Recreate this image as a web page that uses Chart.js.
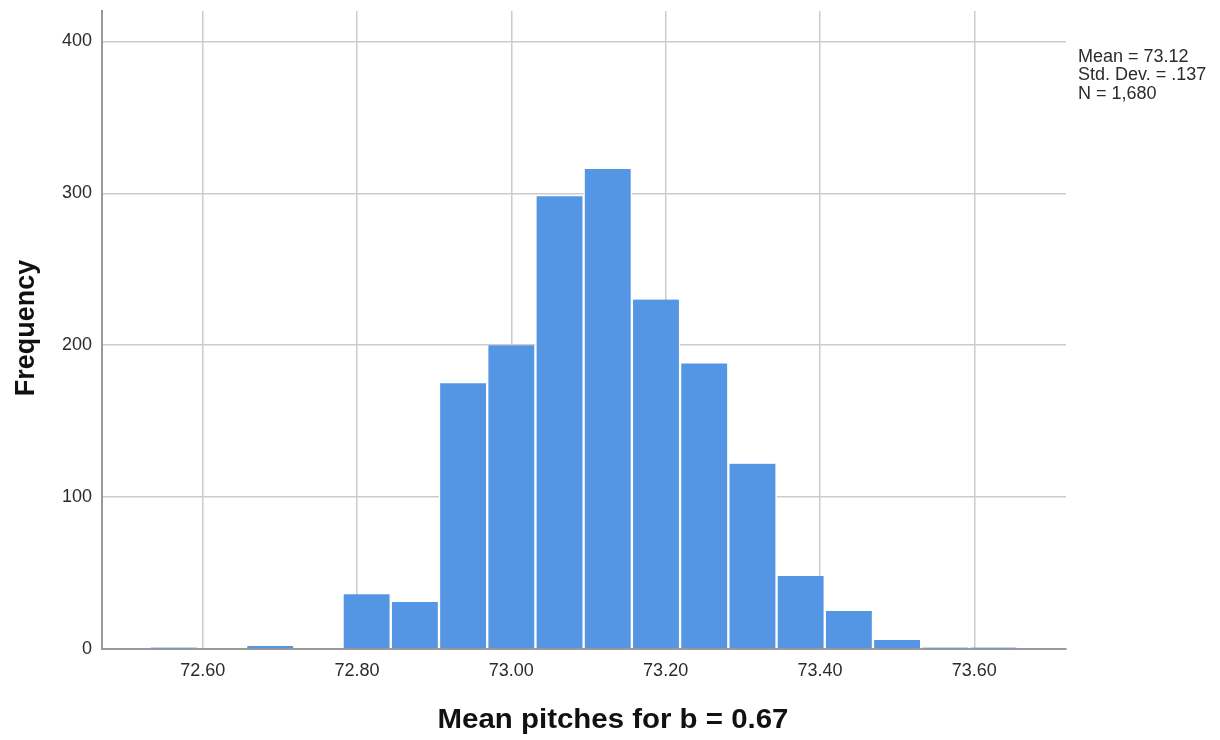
<!DOCTYPE html>
<html>
<head>
<meta charset="utf-8">
<script src="https://cdn.jsdelivr.net/npm/chart.js@4"></script>
<style>
  html, body { margin: 0; padding: 0; background: #fff; }
  #wrap { width: 1220px; height: 740px; position: relative; }
</style>
</head>
<body>
<div id="wrap"><canvas id="histChart" width="1220" height="740"></canvas></div>
<script>
// histogram bins (centres) and counts
const binCenters = [72.5625, 72.625, 72.6875, 72.75, 72.8125, 72.875, 72.9375, 73.0, 73.0625,
    73.125, 73.1875, 73.25, 73.3125, 73.375, 73.4375, 73.5, 73.5625, 73.625];
const counts = [1, 0, 2, 0, 36, 31, 175, 200, 298, 316, 230, 188, 122, 48, 25, 6, 1, 1];

const xTicks = [72.6, 72.8, 73.0, 73.2, 73.4, 73.6];
const yTicks = [0, 100, 200, 300, 400];
const statsLines = ['Mean = 73.12', 'Std. Dev. = .137', 'N = 1,680'];
const xTitle = 'Mean pitches for b = 0.67';
const yTitle = 'Frequency';

const BAR_COLOR = '#5596e4';
const GRID_COLOR = '#cccccc';
const AXIS_COLOR = '#999999';
const TEXT_COLOR = '#2b2b2b';

// titles + stats box drawn on the canvas
const textPlugin = {
    id: 'histText',
    afterDraw(chart) {
        const ctx = chart.ctx;
        ctx.save();
        ctx.fillStyle = TEXT_COLOR;
        ctx.font = '18px "Liberation Sans", Arial, sans-serif';
        ctx.textAlign = 'left';
        ctx.textBaseline = 'alphabetic';
        statsLines.forEach((line, i) => ctx.fillText(line, 1078, 61.5 + i * 18.5));

        ctx.fillStyle = '#111';
        ctx.font = 'bold 27px "Liberation Sans", Arial, sans-serif';
        ctx.textAlign = 'center';
        ctx.save();
        ctx.translate(613, 728);
        ctx.scale(1.09, 1);   // reference title is a bit wider
        ctx.fillText(xTitle, 0, 0);
        ctx.restore();

        ctx.translate(27, 328);
        ctx.rotate(-Math.PI / 2);
        ctx.textBaseline = 'middle';
        ctx.fillText(yTitle, 0, 0);
        ctx.restore();
    }
};

const ctx = document.getElementById('histChart').getContext('2d');
new Chart(ctx, {
    type: 'bar',
    data: {
        datasets: [{
            data: binCenters.map((c, i) => ({ x: c, y: counts[i] })),
            backgroundColor: BAR_COLOR,
            borderColor: '#ffffff',
            borderWidth: { left: 1.5, right: 1.5, top: 0, bottom: 0 },
            barPercentage: 1,
            categoryPercentage: 1
        }]
    },
    options: {
        responsive: false,
        animation: false,
        layout: { padding: { left: 0, right: 154, top: 11, bottom: 0 } },
        plugins: { legend: { display: false }, tooltip: { enabled: false } },
        scales: {
            x: {
                type: 'linear',
                min: 72.4695,
                max: 73.7189,
                offset: false,
                afterBuildTicks: (scale) => { scale.ticks = xTicks.map(v => ({ value: v })); },
                afterFit: (scale) => { scale.height = 91; },
                grid: { color: GRID_COLOR, lineWidth: 1.5, drawTicks: false, offset: false },
                border: { color: AXIS_COLOR, width: 2 },
                ticks: {
                    color: TEXT_COLOR,
                    padding: 11,
                    maxRotation: 0,
                    autoSkip: false,
                    font: { family: '"Liberation Sans", Arial, sans-serif', size: 18 },
                    callback: (v) => Number(v).toFixed(2)
                }
            },
            y: {
                min: 0,
                max: 420,
                afterBuildTicks: (scale) => { scale.ticks = yTicks.map(v => ({ value: v })); },
                afterFit: (scale) => {
                    scale.width = 102;
                    scale.paddingTop = 0;
                    scale.paddingBottom = 0;
                },
                grid: { color: GRID_COLOR, lineWidth: 1.5, drawTicks: false },
                border: { color: AXIS_COLOR, width: 2 },
                ticks: {
                    color: TEXT_COLOR,
                    padding: 10,
                    font: { family: '"Liberation Sans", Arial, sans-serif', size: 18 }
                }
            }
        }
    },
    plugins: [textPlugin]
});
</script>
</body>
</html>
